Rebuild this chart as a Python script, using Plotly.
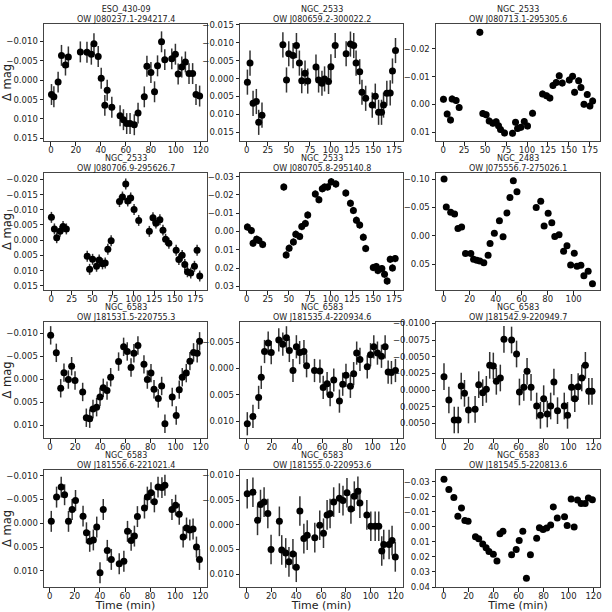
import plotly.graph_objects as go
from plotly.subplots import make_subplots

# ── Light curves, one pair of arrays per star (time in min, delta mag) ───────
t_080237 = [0.5, 2.4, 5.8, 8.5, 11.7, 14, 23.6, 28.9, 32.4, 34.5, 37.9, 40.3, 43.2, 45.1, 48.8, 55.4, 58.1,
            60.7, 63.4, 66.8, 69.8, 74.8, 76.9, 80.1, 83, 85.4, 88.6, 91.2, 96.8, 99.7, 101.9, 104.8, 107.7,
            110.6, 113.5, 116.2, 119.1]
dm_080237 = [0.0037, 0.0043, 0.0005, -0.0064, -0.0039, -0.006, -0.0073, -0.0072, -0.0067, -0.0094, -0.0061,
             -0.0005, 0.0065, 0.0026, 0.007, 0.0092, 0.0102, 0.0112, 0.0112, 0.0115, 0.0085, 0.0043, -0.0036,
             -0.002, 0.003, -0.0037, -0.0099, -0.0053, -0.0055, -0.0067, -0.0016, -0.0034, -0.0047, -0.0017,
             -0.0017, 0.0037, 0.0041]

t_080659 = [0.8, 3.9, 7.5, 11.4, 14.2, 18.1, 42.9, 47.2, 49.9, 55, 59, 62.5, 65.3, 69.2, 72.4, 82.2, 85.3,
            89.3, 92.4, 97.1, 99.9, 105, 118, 123.1, 127, 129.8, 134.1, 136.8, 141.2, 149, 152.6, 156.5, 160,
            162.4, 166.3, 170.3, 173, 176.6]
dm_080659 = [0.001, -0.0043, 0.0069, 0.0064, 0.0122, 0.0102, -0.0094, 0.0004, -0.0069, -0.0064, -0.0092,
             -0.0043, 0.0006, -0.0015, 0.0007, -0.0032, 0.0004, 0.0013, 0.0001, 0.0008, -0.0033, -0.0092,
             -0.0069, -0.0096, -0.0092, -0.0043, -0.0019, 0.0038, 0.0055, 0.0074, 0.0049, 0.0094, 0.0094,
             0.0074, 0.0041, 0.004, -0.0021, -0.0078]

t_080713 = [0.4, 4.8, 8.8, 10.7, 15.5, 19.1, 43.8, 47.3, 51.3, 54.9, 59.3, 63.2, 66, 68.4, 73.2, 82.7, 86.3,
            88.7, 92.7, 96.7, 100.6, 106.6, 118.5, 123.3, 127.3, 130.9, 134.8, 138.4, 142, 150.4, 154.3, 156.7,
            161.5, 164.3, 167.9, 171.8, 175, 178.2]
dm_080713 = [-0.0019, 0.0034, 0.0056, -0.002, -0.0014, 0.0011, -0.0259, 0.0032, 0.0037, 0.0059, 0.0067,
             0.0062, 0.0076, 0.009, 0.0102, 0.0103, 0.0064, 0.0086, 0.0082, 0.0061, 0.0077, 0.0031, -0.0038,
             -0.0031, -0.0023, -0.0068, -0.0079, -0.0103, -0.0077, -0.0088, -0.0101, -0.0044, -0.0085,
             -0.0061, -0.0001, -0.0036, 0.0005, -0.0013]

t_080706 = [0.4, 4, 6.8, 10.9, 14.5, 18.5, 43.8, 46.7, 50.3, 55.1, 58.3, 62.3, 65.6, 68.8, 72.8, 82.9, 86.5,
            90.5, 92.9, 96.5, 100.6, 106.2, 119.1, 123.5, 127.1, 131.9, 135.6, 138.8, 142.8, 151.6, 154.9,
            158.9, 162.1, 165.3, 169.3, 173.8, 177, 180.2]
dm_080706 = [-0.0075, -0.0037, -0.0008, -0.0029, -0.0045, -0.0037, 0.0053, 0.0096, 0.0063, 0.0086, 0.0065,
             0.0078, 0.0075, 0.003, 0.0002, -0.0127, -0.0142, -0.0185, -0.0129, -0.0139, -0.0101, -0.0065,
             -0.0029, -0.0074, -0.0056, -0.0067, -0.0033, -0.0003, 0.001, 0.0033, 0.0064, 0.005, 0.008,
             0.0104, 0.0108, 0.0086, 0.0033, 0.0118]

t_080705 = [0.8, 5.5, 7.5, 11.8, 14.5, 18.9, 44, 46.8, 50.3, 55.4, 58.2, 62.9, 65.3, 69.6, 72.4, 81.4, 85.7,
            89.7, 92.4, 96, 100.3, 105.8, 117.6, 123.1, 126.6, 130.2, 134.1, 138.4, 141.2, 150.2, 153.8, 155.7,
            160.4, 163.6, 166.7, 170.3, 173, 176.2]
dm_080705 = [-0.0024, -0.0005, 0.0064, 0.0042, 0.0049, 0.0071, -0.0243, 0.0128, 0.0091, 0.0057, 0.0015,
             0.0027, -0.0027, -0.0044, -0.009, -0.0205, -0.0174, -0.0234, -0.0243, -0.0243, -0.0272, -0.026,
             -0.021, -0.0154, -0.0115, -0.0062, -0.0035, 0.0031, 0.0093, 0.0197, 0.0192, 0.0214, 0.0203,
             0.0234, 0.0271, 0.0152, 0.0199, 0.0148]

t_075556 = [0.3, 2, 5.4, 8.4, 11, 13.8, 16.8, 20.9, 23, 25.5, 27.8, 30.9, 34.2, 35.7, 39, 42.9, 45.7, 48.7,
            51, 53.6, 56.4, 71.2, 74.7, 77.3, 80.4, 83.2, 85.5, 88.8, 92.3, 94.9, 97.7, 100.5, 102.6, 105.6,
            107.9, 111.2, 114.5]
dm_075556 = [-0.1002, -0.051, -0.0415, -0.0386, -0.013, -0.0154, 0.0314, 0.0314, 0.0415, 0.0433, 0.0445,
             0.048, 0.0344, 0.0136, -0.0042, -0.0267, 0.0018, -0.0403, -0.0676, -0.0973, -0.0777, -0.0498,
             -0.0611, -0.0172, -0.0397, -0.0231, 0.0012, -0.0018, 0.0273, 0.0178, 0.0516, 0.0308, 0.054,
             0.0522, 0.0706, 0.0629, 0.0848]

t_181531 = [0.5, 5, 8.5, 11.1, 14.6, 17.2, 19.9, 26, 28.9, 31.6, 34.2, 37.1, 39.8, 42.4, 45.4, 48.3, 54.6,
            58.6, 61.5, 64.5, 66.8, 70, 74.8, 77.5, 80.4, 82.8, 86.2, 88.9, 91.5, 97.3, 100.5, 102.9, 105.3,
            108.5, 111.4, 114.3, 117.2, 119.1]
dm_181531 = [-0.0095, -0.0057, 0.002, -0.0014, 0.0001, -0.0028, 0.0003, 0.0028, 0.0084, 0.0086, 0.0065,
             0.0061, 0.0039, 0.0019, 0.0025, -0.0004, -0.0038, -0.007, -0.006, -0.0025, -0.0056, -0.0073,
             -0.0032, 0.0001, -0.0013, 0.0022, 0.0042, 0.0015, 0.0097, 0.0039, 0.0079, 0.0023, -0.0004,
             -0.0013, -0.0039, -0.0058, -0.0056, -0.0082]

t_181535 = [0.5, 5, 9.5, 11.6, 14.2, 17.1, 19.5, 25.5, 28.7, 31.6, 33.9, 36.8, 39.5, 42.1, 45.5, 47.6, 53.9,
            58.2, 60.8, 63.9, 66.3, 69.2, 73.7, 76.3, 78.9, 82.4, 85, 87.4, 90, 95.8, 98.4, 101, 103.9, 107.1,
            110, 112.4, 115, 118.2]
dm_181535 = [0.0105, 0.0091, 0.0055, 0.0017, -0.0032, -0.0048, -0.003, -0.0054, -0.0046, -0.0058, -0.0034,
             0.0004, -0.0041, -0.003, -0.0032, -0.0005, 0.0004, 0.0005, 0.0036, 0.0029, 0.005, 0.0022,
             0.0062, 0.003, 0.0013, 0.0034, 0.001, -0.0029, -0.0017, -0.0003, -0.0026, -0.0041, -0.0029,
             -0.0023, -0.0041, 0.0007, 0.0008, 0.0004]

t_181542 = [0.3, 4.2, 8.5, 11.7, 14.1, 16.7, 19.9, 25.2, 28.1, 31.3, 34.2, 36.9, 39.8, 42.2, 45.4, 48.3, 54.4,
            58.4, 60.7, 64.2, 66.8, 70, 74.5, 77.5, 80.1, 83, 85.7, 88.3, 91.2, 96.6, 99.2, 102.4, 105, 107.7,
            110.6, 113.5, 116.2, 118.8]
dm_181542 = [-0.002, 0.0015, 0.0045, 0.0045, -0.0006, 0.0005, 0.003, 0.0029, -0.0008, 0.0004, -0.0001,
             -0.0037, -0.0036, -0.0013, -0.0018, -0.0076, -0.0075, -0.0054, 0.0003, -0.0004, -0.0028,
             -0.0004, 0.0024, 0.0038, 0.0013, 0.0036, 0.0024, -0.0012, 0.0031, 0.0024, 0.0038, -0.0004,
             0.0013, -0.0005, -0.0018, -0.0037, 0.0002, 0.0002]

t_181556 = [1.3, 5.5, 9.2, 11.9, 15, 17.9, 20.6, 26.6, 29.3, 31.9, 34.8, 37.5, 40.1, 42.7, 45.9, 49.1, 55.4,
            59.1, 62, 64.9, 67.5, 69.9, 75.5, 77.8, 80.7, 83.4, 86.3, 89.4, 91.8, 97.4, 100.3, 103.2, 106.3,
            109, 111.6, 114.2, 116.9, 119.3]
dm_181556 = [-0.0004, -0.0055, -0.0076, -0.006, -0.0004, -0.0029, -0.0048, -0.0015, 0.002, 0.0038, 0.0035,
             0.0008, 0.0104, -0.0029, 0.0057, 0.0076, 0.0085, 0.008, 0.0017, 0.0036, 0.0027, -0.0014,
             -0.0032, -0.0055, -0.0064, -0.0045, -0.0076, -0.0075, -0.008, -0.0029, -0.0038, -0.0019,
             0.0029, 0.001, 0.0014, 0.0012, 0.005, 0.0076]

t_181555 = [0.5, 5.1, 8.8, 11.2, 14.1, 17.1, 19.7, 26.4, 28.3, 31.5, 34.1, 37.3, 40, 42.9, 46.1, 48.8, 54.9,
            58.9, 61.9, 64.8, 67.2, 70.1, 74.7, 77.6, 80.8, 84, 86.7, 89.6, 91.2, 96.8, 100, 103.5, 106.4,
            108.8, 110.4, 114.7, 117.1, 119.7]
dm_181555 = [-0.0063, -0.0066, -0.0009, -0.0041, -0.0046, -0.0023, 0.005, -0.0007, 0.0051, 0.0057, 0.0075,
             0.0059, 0.0086, -0.0028, 0.0028, 0.0021, 0.0026, 0.0001, 0.0017, -0.002, -0.0023, -0.0046,
             -0.0054, -0.0049, -0.0065, -0.0032, -0.0058, -0.0068, -0.0044, -0.002, 0.0003, 0.0003, 0.0003,
             0.0053, 0.004, 0.004, 0.0032, 0.0065]

t_181545 = [0.3, 4.2, 8.2, 11.4, 14.3, 17, 19.6, 25.5, 28.1, 31.3, 34, 36.3, 39.8, 42.7, 45.1, 47.5, 54.4,
            58.1, 60.5, 63.4, 66.3, 69.5, 74.5, 76.7, 79.6, 82.5, 85.7, 87.8, 91, 96.8, 98.9, 102.1, 104.5,
            107.2, 110.1, 113.3, 115.9, 119.1]
dm_181545 = [-0.0316, -0.0248, -0.0195, -0.007, -0.0125, -0.0042, -0.0037, 0.0066, 0.0079, 0.0114, 0.014,
             0.0164, 0.0182, 0.0228, 0.0046, 0.0029, 0.0186, 0.0151, 0.0092, 0.0029, 0.0342, 0.0186, 0.0077,
             0.0007, 0.0018, 0.0009, -0.0011, -0.0132, -0.0059, -0.0066, -0.0009, -0.0184, 0.0002, -0.0178,
             -0.0154, -0.0154, -0.0191, -0.018]

clusters = ['ESO_430-09', 'NGC_2533', 'NGC_2533', 'NGC_2533', 'NGC_2533', 'NGC_2483',
            'NGC_6583', 'NGC_6583', 'NGC_6583', 'NGC_6583', 'NGC_6583', 'NGC_6583']
star_ids = ['OW J080237.1-294217.4', 'OW J080659.2-300022.2', 'OW J080713.1-295305.6',
            'OW J080706.9-295626.7', 'OW J080705.8-295140.8', 'OW J075556.7-275026.1',
            'OW J181531.5-220755.3', 'OW J181535.4-220934.6', 'OW J181542.9-220949.7',
            'OW J181556.6-221021.4', 'OW J181555.0-220953.6', 'OW J181545.5-220813.6']
errs = [0.0027, 0.0035, 0.0012, 0.0018, 0.002, 0.002, 0.002, 0.0022, 0.002, 0.0022, 0.003, 0.0015]

# axis ticks per panel
xt_120 = [0, 20, 40, 60, 80, 100, 120]
xt_175 = [0, 25, 50, 75, 100, 125, 150, 175]
xt_100 = [0, 20, 40, 60, 80, 100]
yt = [
    [-0.010, -0.005, 0.0, 0.005, 0.010, 0.015],
    [-0.015, -0.010, -0.005, 0.0, 0.005, 0.010, 0.015],
    [-0.02, -0.01, 0.0, 0.01],
    [-0.020, -0.015, -0.010, -0.005, 0.0, 0.005, 0.010, 0.015],
    [-0.03, -0.02, -0.01, 0.0, 0.01, 0.02, 0.03],
    [-0.10, -0.05, 0.0, 0.05],
    [-0.010, -0.005, 0.0, 0.005, 0.010],
    [-0.005, 0.0, 0.005, 0.010],
    [-0.0100, -0.0075, -0.0050, -0.0025, 0.0, 0.0025, 0.0050],
    [-0.010, -0.005, 0.0, 0.005, 0.010],
    [-0.010, -0.005, 0.0, 0.005, 0.010],
    [-0.03, -0.02, -0.01, 0.0, 0.01, 0.02, 0.03, 0.04],
]
ydec = [3, 3, 2, 3, 2, 2, 3, 3, 4, 3, 3, 2]

times = [t_080237, t_080659, t_080713, t_080706, t_080705, t_075556,
         t_181531, t_181535, t_181542, t_181556, t_181555, t_181545]
dmags = [dm_080237, dm_080659, dm_080713, dm_080706, dm_080705, dm_075556,
         dm_181531, dm_181535, dm_181542, dm_181556, dm_181555, dm_181545]
xticks = [xt_120, xt_175, xt_175, xt_175, xt_175, xt_100,
          xt_120, xt_120, xt_120, xt_120, xt_120, xt_120]

# plot-window limits (matplotlib auto-limits as seen in the figure)
x_lims = [(-5.5, 125), (-8, 185.5), (-8.5, 187), (-8.6, 189), (-8, 185.5), (-5.9, 120.3),
          (-4.8, 125), (-5.3, 124.2), (-6.1, 125.2), (-4.5, 125.3), (-5.3, 125.9), (-6.1, 125.2)]
y_lims = [(0.0157, -0.0145), (0.0174, -0.0152), (0.0131, -0.0289), (0.0164, -0.0221),
          (0.032, -0.032), (0.096, -0.111), (0.0128, -0.0124), (0.0132, -0.0088),
          (0.0072, -0.0102), (0.0134, -0.0112), (0.0126, -0.0111), (0.04, -0.0377)]

# ── Figure ───────────────────────────────────────────────────────────────────
W = H = 612
col_px = [(44, 207), (240, 403), (436, 600)]
row_px = [(24, 141), (173, 290), (322, 438), (470, 587)]
FONT = 'DejaVu Sans'
INK = '#222222'

fig = make_subplots(rows=4, cols=3)

for k in range(12):
    r, c = divmod(k, 3)
    fig.add_trace(go.Scatter(
        x=times[k], y=dmags[k], mode='markers',
        marker=dict(color='black', size=7),
        error_y=dict(type='constant', value=errs[k], color='#333333', thickness=1.5, width=0),
        showlegend=False,
    ), row=r + 1, col=c + 1)

    sfx = '' if k == 0 else str(k + 1)
    x0, x1 = col_px[c]
    y0, y1 = row_px[r]
    fig.layout['xaxis' + sfx].update(
        domain=[x0 / W, x1 / W], range=list(x_lims[k]),
        tickvals=xticks[k], ticks='outside', ticklen=3.5, tickcolor=INK,
        ticklabelstandoff=-3,
        showline=True, mirror=True, linecolor='#444444', linewidth=1,
        showgrid=False, zeroline=False, automargin=False,
        tickfont=dict(family=FONT, size=8.5, color=INK),
    )
    fig.layout['yaxis' + sfx].update(
        domain=[1 - y1 / H, 1 - y0 / H], range=list(y_lims[k]),
        tickvals=yt[k],
        ticktext=[f'{v:.{ydec[k]}f}'.replace('-', '\u2212') if v != 0 else f'{0:.{ydec[k]}f}' for v in yt[k]],
        ticks='outside', ticklen=3.5, tickcolor=INK,
        showline=True, mirror=True, linecolor='#444444', linewidth=1,
        showgrid=False, zeroline=False, automargin=False,
        tickfont=dict(family=FONT, size=8.5, color=INK),
    )
    if c == 0:
        fig.layout['yaxis' + sfx].title = dict(text='\u0394 mag', font=dict(family=FONT, size=11.5, color=INK),
                                              standoff=4)
    if r == 3:
        fig.layout['xaxis' + sfx].title = dict(text='Time (min)', font=dict(family=FONT, size=11, color=INK),
                                              standoff=5)

    fig.add_annotation(
        x=(x0 + x1) / 2 / W, y=1 - y0 / H, xref='paper', yref='paper',
        xanchor='center', yanchor='bottom', yshift=-2, showarrow=False,
        text=clusters[k] + '<br>' + star_ids[k],
        font=dict(family=FONT, size=8, color=INK),
    )

fig.update_layout(
    width=W, height=H,
    margin=dict(l=0, r=0, t=0, b=0),
    paper_bgcolor='white', plot_bgcolor='white',
    font=dict(family=FONT, color=INK),
)

# drop the browser's default page margin so the 612px figure fills the window
fig.write_html("out.html", config={'displayModeBar': False},
               post_script="document.body.style.margin='0px';")
